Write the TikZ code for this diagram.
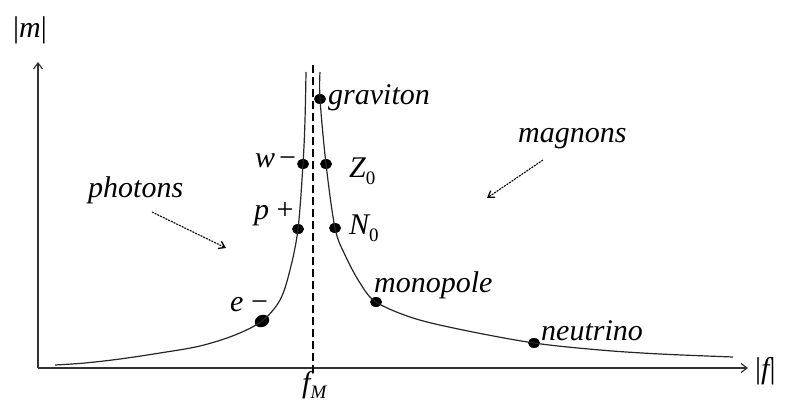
\documentclass[tikz,border=0pt]{standalone}
\usepackage{fontspec}
\setmainfont{Liberation Serif}
\usetikzlibrary{arrows.meta,shapes.geometric}
\newcommand\mysub[1]{\raisebox{-0.22em}{\fontsize{19}{20}\selectfont #1}}
\begin{document}
\begin{tikzpicture}[x=1pt,y=-1pt,
  lab/.style={font=\fontsize{30}{32}\selectfont\itshape, inner sep=0pt, anchor=base west},
  dot/.style={shape=ellipse, fill=black, inner sep=0pt, minimum width=12pt, minimum height=10pt},
  axis/.style={line width=1.5pt, draw=black!80, -{Straight Barb[length=6pt,width=9pt,line width=1.2pt]}},
  curve/.style={line width=1.2pt, draw=black!85},
  hint/.style={line width=1.1pt, dash pattern=on 2pt off 1pt, -{Straight Barb[length=6pt,width=8pt,line width=1.3pt]}}]
\useasboundingbox (0,0) rectangle (787,403);
% axes
\coordinate (O) at (38,368);
\coordinate (ytip) at (38,62);
\coordinate (xtip) at (748,368);
\draw[axis] (O) -- (ytip);
\draw[axis] (O) -- (xtip);
\node[lab] (mlab) at (13,38) {\upshape|\itshape m\upshape|};
\node[lab] (flab) at (755,378) {\upshape|\itshape f\upshape|};
% dashed line
\coordinate (dtop) at (313,65);
\coordinate (dbot) at (313,374);
\draw[line width=1.2pt, dash pattern=on 8pt off 4pt] (dtop) -- (dbot);
\node[lab] (fM) at (302,392) {f\mysub{\itshape M}};
% dots
\node[dot, minimum width=15pt, minimum height=12pt, rotate=25] (e) at (262,321) {};
\node[dot] (p) at (298,229) {};
\node[dot] (w) at (303,164) {};
\node[dot] (g) at (320,99) {};
\node[dot] (z) at (326,164) {};
\node[dot] (n) at (335,228) {};
\node[dot] (mono) at (376,302) {};
\node[dot] (nu) at (534,343) {};
% curve
\draw[curve] plot[smooth, tension=0.55] coordinates {(55,365) (85,363) (120,359) (160,353) (200,346) (235,335) (e.center) (280,300) (290,270) (p.center) (w.center) (305,120) (306,72)};
\draw[curve] plot[smooth, tension=0.55] coordinates {(320,72) (g.center) (z.center) (n.center) (345,255) (360,283) (mono.center) (413,318) (463,330) (nu.center) (600,350) (660,354) (733,357)};
% labels
\node[lab] (glab) at (328,105) {graviton};
\node[lab] (wlab) at (255,168) {w\hspace{4pt}\upshape−};
\node[lab] (zlab) at (349,178) {Z\mysub{\upshape 0}};
\node[lab] (plab) at (254,220) {p \upshape+};
\node[lab] (nlab) at (349,235) {N\mysub{\upshape 0}};
\node[lab] (elab) at (230,312) {e \upshape−};
\node[lab] (monolab) at (374,293) {monopole};
\node[lab] (nulab) at (541,340) {neutrino};
\node[lab] (photlab) at (88,198) {photons};
\node[lab] (maglab) at (518,143) {magnons};
% hint arrows
\coordinate (ps) at (152,212);
\coordinate (pe) at (226,248);
\draw[hint] (ps) -- (pe);
\coordinate (ms) at (543,160);
\coordinate (me) at (487,198);
\draw[hint] (ms) -- (me);
\end{tikzpicture}
\end{document}
